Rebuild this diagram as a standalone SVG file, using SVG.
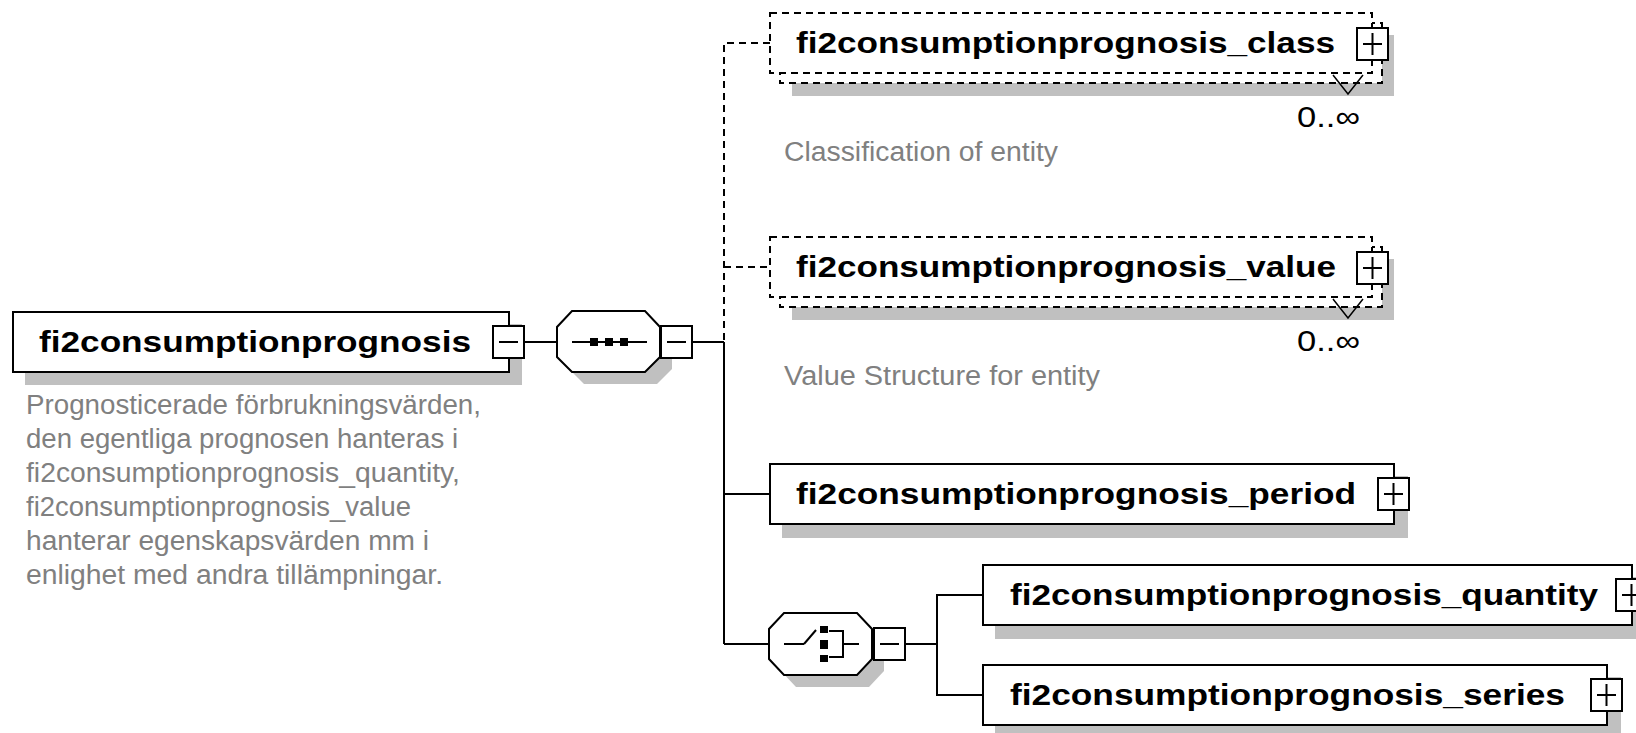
<svg xmlns="http://www.w3.org/2000/svg" width="1636" height="733" viewBox="0 0 1636 733">
<style>
.shadow{fill:#c0c0c0;stroke:none}
.box{fill:#fff;stroke:#000;stroke-width:2}
.dbox{fill:#fff;stroke:#000;stroke-width:2;stroke-dasharray:7 5}
.btn{fill:#fff;stroke:#000;stroke-width:2}
.sym{stroke:#000;stroke-width:2;fill:none}
.conn{stroke:#000;stroke-width:2;fill:none}
.dconn{stroke:#000;stroke-width:2;fill:none;stroke-dasharray:7 5}
.name{font-family:"Liberation Sans",Arial,sans-serif;font-weight:bold;font-size:30px;fill:#000}
.desc{font-family:"Liberation Sans",Arial,sans-serif;font-size:27px;fill:#808080}
.occ{font-family:"Liberation Sans",Arial,sans-serif;font-size:30px;fill:#000}
</style>
<defs>
<g id="minus"><rect class="btn" x="0" y="0" width="31" height="32"/><line class="sym" x1="6" y1="16" x2="25" y2="16"/></g>
<g id="plus"><rect class="btn" x="0" y="0" width="31" height="32"/><line class="sym" x1="6" y1="16" x2="25" y2="16"/><line class="sym" x1="15.5" y1="5" x2="15.5" y2="27"/></g>
</defs>

<g id="connectors">
<line class="conn" x1="524" y1="342" x2="557" y2="342"/>
<line class="conn" x1="692" y1="342" x2="724" y2="342"/>
<path class="dconn" d="M770,43 H724 V342"/>
<line class="dconn" x1="724" y1="267" x2="770" y2="267"/>
<line class="conn" x1="724" y1="342" x2="724" y2="644"/>
<line class="conn" x1="724" y1="494" x2="770" y2="494"/>
<line class="conn" x1="724" y1="644" x2="769" y2="644"/>
<line class="conn" x1="905" y1="644" x2="937" y2="644"/>
<path class="conn" d="M983,595 H937 V695 H983"/>
</g>

<g id="main">
<rect class="shadow" x="25" y="324" width="497" height="61"/>
<rect class="box" x="13" y="312" width="496" height="60"/>
<text class="name" x="39" y="352" textLength="432" lengthAdjust="spacingAndGlyphs">fi2consumptionprognosis</text>
<use href="#minus" x="493" y="326"/>
<text class="desc" x="26" y="414" textLength="455" lengthAdjust="spacingAndGlyphs">Prognosticerade förbrukningsvärden,</text>
<text class="desc" x="26" y="448" textLength="432" lengthAdjust="spacingAndGlyphs">den egentliga prognosen hanteras i</text>
<text class="desc" x="26" y="482" textLength="434" lengthAdjust="spacingAndGlyphs">fi2consumptionprognosis_quantity,</text>
<text class="desc" x="26" y="516" textLength="385" lengthAdjust="spacingAndGlyphs">fi2consumptionprognosis_value</text>
<text class="desc" x="26" y="550" textLength="403" lengthAdjust="spacingAndGlyphs">hanterar egenskapsvärden mm i</text>
<text class="desc" x="26" y="584" textLength="417" lengthAdjust="spacingAndGlyphs">enlighet med andra tillämpningar.</text>
</g>

<g id="sequence">
<polygon class="shadow" points="584,323 657,323 672,339 672,369 657,384 584,384 569,369 569,339"/>
<polygon class="box" points="572,311 645,311 660,327 660,357 645,372 572,372 557,357 557,327"/>
<line class="sym" x1="572" y1="342" x2="647" y2="342"/>
<rect x="590" y="338" width="8" height="8" fill="#000"/>
<rect x="605" y="338" width="8" height="8" fill="#000"/>
<rect x="620" y="338" width="8" height="8" fill="#000"/>
<use href="#minus" x="661" y="326"/>
</g>

<g id="class">
<rect class="shadow" x="792" y="35" width="602" height="61"/>
<rect class="dbox" x="780" y="23" width="602" height="60"/>
<rect class="dbox" x="770" y="13" width="602" height="60"/>
<text class="name" x="796" y="53" textLength="539" lengthAdjust="spacingAndGlyphs">fi2consumptionprognosis_class</text>
<use href="#plus" x="1357" y="28"/>
<path d="M1333,75 L1348,94 L1363,75" fill="none" stroke="#000" stroke-width="1.5"/>
<text class="occ" x="1360" y="127" text-anchor="end" textLength="63" lengthAdjust="spacingAndGlyphs">0..∞</text>
<text class="desc" x="784" y="161" textLength="274" lengthAdjust="spacingAndGlyphs">Classification of entity</text>
</g>

<g id="value">
<rect class="shadow" x="792" y="259" width="602" height="61"/>
<rect class="dbox" x="780" y="247" width="602" height="60"/>
<rect class="dbox" x="770" y="237" width="602" height="60"/>
<text class="name" x="796" y="277" textLength="540" lengthAdjust="spacingAndGlyphs">fi2consumptionprognosis_value</text>
<use href="#plus" x="1357" y="252"/>
<path d="M1333,299 L1348,318 L1363,299" fill="none" stroke="#000" stroke-width="1.5"/>
<text class="occ" x="1360" y="351" text-anchor="end" textLength="63" lengthAdjust="spacingAndGlyphs">0..∞</text>
<text class="desc" x="784" y="385" textLength="316" lengthAdjust="spacingAndGlyphs">Value Structure for entity</text>
</g>

<g id="period">
<rect class="shadow" x="782" y="476" width="626" height="62"/>
<rect class="box" x="770" y="464" width="624" height="60"/>
<text class="name" x="796" y="504" textLength="560" lengthAdjust="spacingAndGlyphs">fi2consumptionprognosis_period</text>
<use href="#plus" x="1378" y="478"/>
</g>

<g id="choice">
<polygon class="shadow" points="796,625 869,625 884,641 884,671 869,687 796,687 781,671 781,641"/>
<polygon class="box" points="784,613 857,613 872,629 872,659 857,675 784,675 769,659 769,629"/>
<line class="sym" x1="784" y1="644" x2="804" y2="644"/>
<line class="sym" x1="804" y1="644" x2="816" y2="630"/>
<rect x="820" y="626" width="8" height="7" fill="#000"/>
<rect x="820" y="640" width="8" height="9" fill="#000"/>
<rect x="820" y="655" width="8" height="7" fill="#000"/>
<path class="sym" d="M829,631 H843 V657 H829"/>
<line class="sym" x1="843" y1="644" x2="859" y2="644"/>
<use href="#minus" x="874" y="628"/>
</g>

<g id="quantity">
<rect class="shadow" x="995" y="577" width="651" height="62"/>
<rect class="box" x="983" y="565" width="649" height="60"/>
<text class="name" x="1010" y="605" textLength="588" lengthAdjust="spacingAndGlyphs">fi2consumptionprognosis_quantity</text>
<use href="#plus" x="1616" y="579"/>
</g>

<g id="series">
<rect class="shadow" x="995" y="677" width="626" height="62"/>
<rect class="box" x="983" y="665" width="624" height="60"/>
<text class="name" x="1010" y="705" textLength="555" lengthAdjust="spacingAndGlyphs">fi2consumptionprognosis_series</text>
<use href="#plus" x="1591" y="679"/>
</g>
</svg>
